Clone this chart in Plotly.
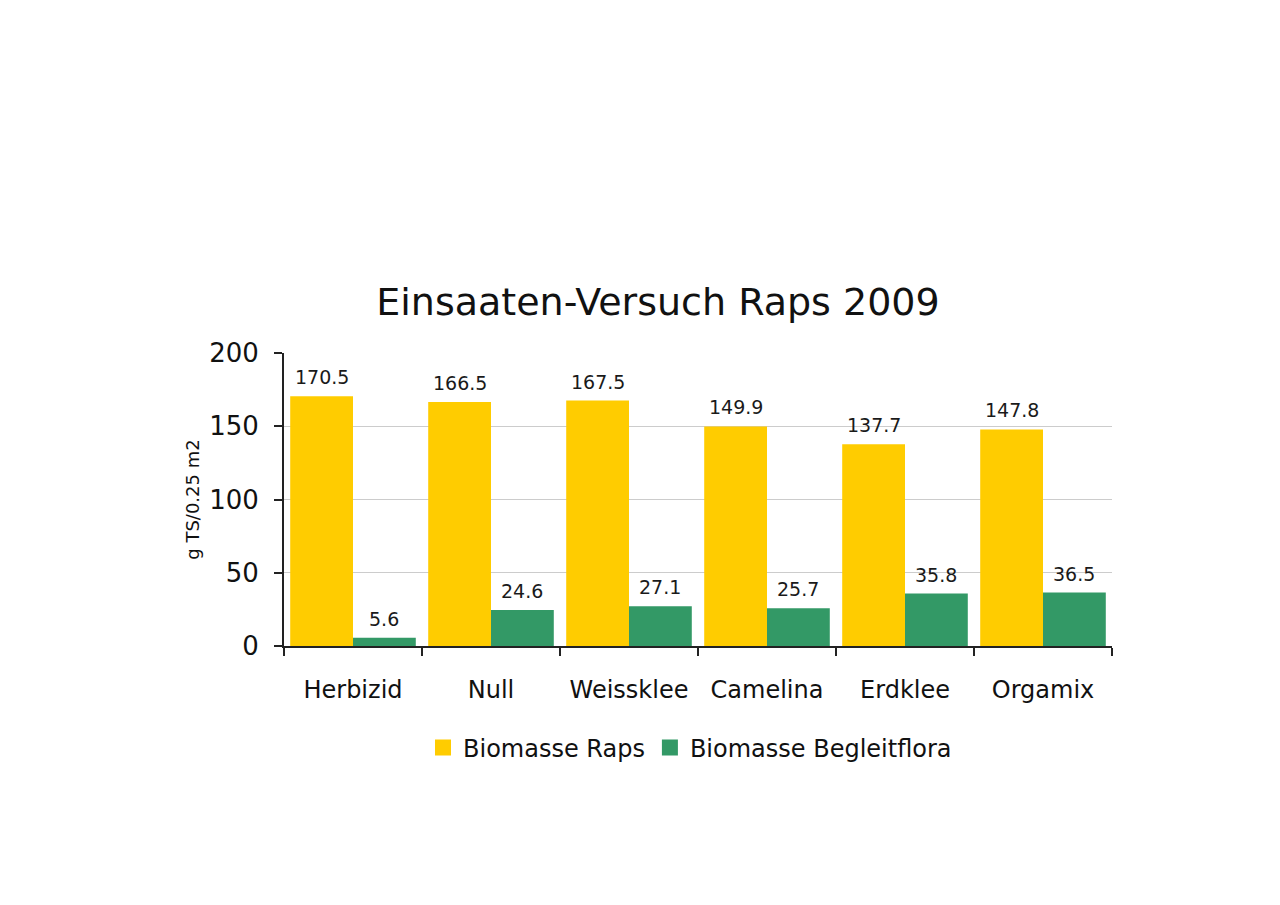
import plotly.graph_objects as go

categories = ["Herbizid", "Null", "Weissklee", "Camelina", "Erdklee", "Orgamix"]
raps = [170.5, 166.5, 167.5, 149.9, 137.7, 147.8]
begleitflora = [5.6, 24.6, 27.1, 25.7, 35.8, 36.5]
series_names = ["Biomasse Raps", "Biomasse Begleitflora"]
series_colors = ["#FFCC00", "#339966"]
y_ticks = [0, 50, 100, 150, 200]

FONT = "DejaVu Sans"
TXT = "#1a1a1a"
OFF = 8  # page body margin

fig = go.Figure()
for vals, name, col in ((raps, series_names[0], series_colors[0]),
                        (begleitflora, series_names[1], series_colors[1])):
    fig.add_trace(go.Bar(x=categories, y=vals, name=name, showlegend=False,
                         marker=dict(color=col, line=dict(width=0))))
# legend entries with larger square symbols
for name, col in zip(series_names, series_colors):
    fig.add_trace(go.Scatter(x=[categories[0]], y=[None], mode="markers", name=name,
                             marker=dict(symbol="square", size=18, color=col),
                             showlegend=True, hoverinfo="skip"))

annotations = []
for vals, shift in ((raps, -31), (begleitflora, 31)):
    for c, v in zip(categories, vals):
        annotations.append(dict(x=c, y=v, text=f"{v:.1f}", showarrow=False,
                                xref="x", yref="y", xshift=shift, yshift=6,
                                yanchor="bottom",
                                font=dict(family=FONT, size=19, color=TXT)))

fig.update_layout(
    width=1280, height=905,
    paper_bgcolor="white", plot_bgcolor="white",
    margin=dict(l=284 - OFF, r=168 + OFF, t=353 - OFF, b=259 + OFF),
    barmode="group", bargap=0.09, bargroupgap=0,
    title=dict(text="Einsaaten-Versuch Raps 2009", x=(658 - OFF) / 1280, xanchor="center",
               y=1 - (302 - OFF) / 905, yanchor="middle",
               font=dict(family=FONT, size=38, color="#111111")),
    showlegend=True,
    legend=dict(orientation="h", x=(690 - OFF) / 1280, xanchor="center", xref="container",
                y=1 - (748 - OFF) / 905, yref="container", yanchor="middle",
                font=dict(family=FONT, size=24, color="#111111"),
                itemwidth=30, traceorder="normal", itemsizing="trace"),
    annotations=annotations,
    xaxis=dict(showline=True, linecolor="#222222", linewidth=2,
               ticks="outside", tickson="boundaries", ticklen=8, tickcolor="#222222",
               tickwidth=1.5, ticklabelstandoff=21,
               tickfont=dict(family=FONT, size=24, color="#111111"),
               showgrid=False),
    yaxis=dict(range=[0, 200], tickvals=y_ticks, showline=True, linecolor="#222222",
               linewidth=2, ticks="outside", ticklen=8, tickcolor="#222222",
               tickwidth=1.5, ticklabelstandoff=10,
               gridcolor="#CCCCCC", gridwidth=1, zeroline=False,
               tickfont=dict(family=FONT, size=26, color="#111111"),
               title=dict(text="g TS/0.25 m2", standoff=5,
                          font=dict(family=FONT, size=18, color="#111111"))),
)

fig.write_html("out.html")
